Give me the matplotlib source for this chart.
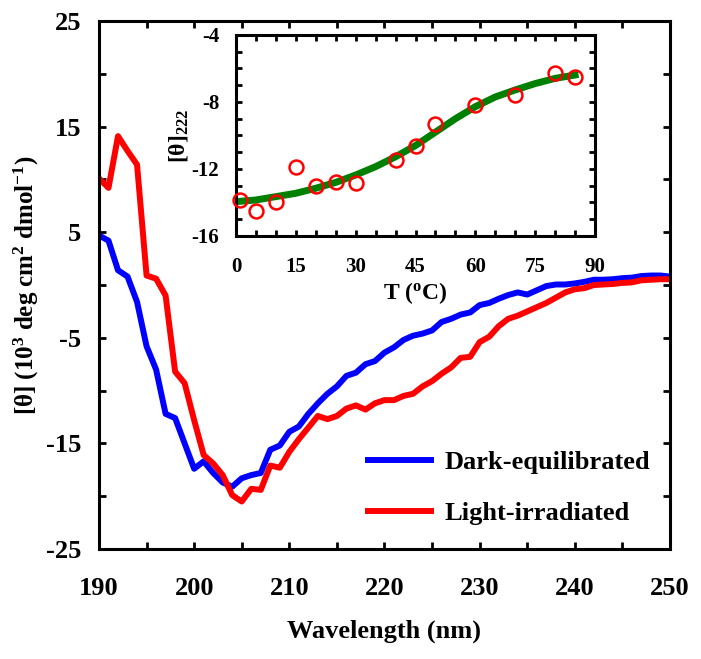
import matplotlib
matplotlib.use("Agg")
import matplotlib.pyplot as plt
from matplotlib.ticker import MultipleLocator

# Espectros de CD (longitud de onda en nm, [theta] en 10^3 deg cm^2 dmol^-1)
wavelength = list(range(190, 251))
dark = [4.7, 4.2, 1.4, 0.8, -1.6, -5.8, -8.0, -12.2, -12.6, -15.0,
        -17.4, -16.7, -17.8, -18.7, -19.1, -18.3, -18.0, -17.8, -15.6, -15.2,
        -13.9, -13.4, -12.2, -11.2, -10.3, -9.6, -8.6, -8.3, -7.5, -7.2,
        -6.4, -5.9, -5.2, -4.8, -4.6, -4.3, -3.5, -3.2, -2.8, -2.6,
        -1.9, -1.7, -1.3, -0.95, -0.7, -0.9, -0.5, -0.1, 0.05, 0.05,
        0.15, 0.3, 0.5, 0.5, 0.55, 0.65, 0.7, 0.85, 0.9, 0.9, 0.8]
light = [10.1, 9.2, 14.1, 12.7, 11.4, 0.9, 0.6, -1.0, -8.2, -9.3,
         -12.8, -16.1, -16.9, -18.0, -19.9, -20.5, -19.3, -19.4, -17.1, -17.3,
         -15.8, -14.6, -13.5, -12.4, -12.7, -12.4, -11.7, -11.4, -11.8, -11.2,
         -10.9, -10.9, -10.5, -10.3, -9.6, -9.1, -8.4, -7.8, -6.9, -6.8,
         -5.4, -4.9, -3.9, -3.2, -2.9, -2.5, -2.1, -1.7, -1.2, -0.7,
         -0.4, -0.3, 0.0, 0.05, 0.1, 0.2, 0.25, 0.45, 0.5, 0.55, 0.55]

# Desnaturalizacion termica a 222 nm
temp_pts = [1, 5, 10, 15, 20, 25, 30, 40, 45, 50, 60, 70, 80, 85]
theta_pts = [-13.85, -14.5, -14.0, -11.9, -13.0, -12.8, -12.85,
             -11.45, -10.65, -9.3, -8.2, -7.6, -6.25, -6.5]
temp_fit = [0, 5, 10, 15, 20, 25, 30, 35, 40, 45, 50, 55, 60, 65, 70, 75, 80, 85]
theta_fit = [-13.95, -13.85, -13.65, -13.45, -13.15, -12.8, -12.36, -11.86,
             -11.27, -10.6, -9.8, -9.0, -8.28, -7.7, -7.28, -6.9, -6.59, -6.39]

plt.rcParams["font.family"] = ["Liberation Serif", "DejaVu Serif"]
plt.rcParams["font.weight"] = "bold"
plt.rcParams["axes.unicode_minus"] = False
plt.rcParams["mathtext.fontset"] = "custom"
plt.rcParams["mathtext.rm"] = "Liberation Serif:bold"
plt.rcParams["mathtext.it"] = "Liberation Serif:bold:italic"
plt.rcParams["mathtext.bf"] = "Liberation Serif:bold"

fig = plt.figure(figsize=(7.01, 6.59), dpi=100)
ax = fig.add_axes([0.1412, 0.1669, 0.8146, 0.8012])

ax.plot(wavelength, dark, color="#0000ff", lw=4.3, label="Dark-equilibrated")
ax.plot(wavelength, light, color="#ff0000", lw=4.3, label="Light-irradiated")
ax.set_xlim(190, 250)
ax.set_ylim(-25, 25)
ax.xaxis.set_major_locator(MultipleLocator(10))
ax.xaxis.set_minor_locator(MultipleLocator(5))
ax.yaxis.set_minor_locator(MultipleLocator(5))
ax.set_yticks([25, 15, 5, -5, -15, -25])
for s in ax.spines.values():
    s.set_linewidth(2.2)
ax.tick_params(which="both", direction="in", top=True, right=True,
               length=5, width=2, labelsize=19)
ax.tick_params(axis="x", which="major", pad=20)
ax.tick_params(axis="y", which="major", pad=13)
ax.set_xlabel("Wavelength (nm)", fontsize=19, fontweight="bold", labelpad=14)
ax.set_ylabel("[θ] (10$^{3}$ deg cm$^{2}$ dmol$^{-1}$)", fontsize=18,
              fontweight="bold", labelpad=3)

ax.legend(loc="upper left", bbox_to_anchor=(0.471, 0.186), frameon=False,
          fontsize=19, handlelength=2.4, handletextpad=0.5, labelspacing=1.05,
          borderpad=0, borderaxespad=0)

# Recuadro interior
ins = fig.add_axes([0.3367, 0.6419, 0.5121, 0.305])
ins.plot(temp_fit, theta_fit, color="#008000", lw=5, zorder=2)
ins.plot(temp_pts, theta_pts, "o", mfc="none", mec="#ff0000", ms=10,
         mew=1.8, clip_on=False, zorder=3)
ins.set_xlim(0, 90)
ins.set_ylim(-16, -4)
ins.xaxis.set_major_locator(MultipleLocator(15))
ins.xaxis.set_minor_locator(MultipleLocator(5))
ins.yaxis.set_major_locator(MultipleLocator(4))
ins.yaxis.set_minor_locator(MultipleLocator(1))
for s in ins.spines.values():
    s.set_linewidth(2.2)
ins.tick_params(which="both", direction="in", top=True, right=True,
                length=4, width=2, labelsize=15)
ins.tick_params(axis="x", which="major", pad=15)
ins.tick_params(axis="y", which="major", pad=12)
ins.set_xlabel("T ($^{\\rm o}$C)", fontsize=17, fontweight="bold", labelpad=2)
ins.set_ylabel("[θ]$_{222}$", fontsize=17, fontweight="bold", labelpad=1)

fig.savefig("out.png", dpi=100)
